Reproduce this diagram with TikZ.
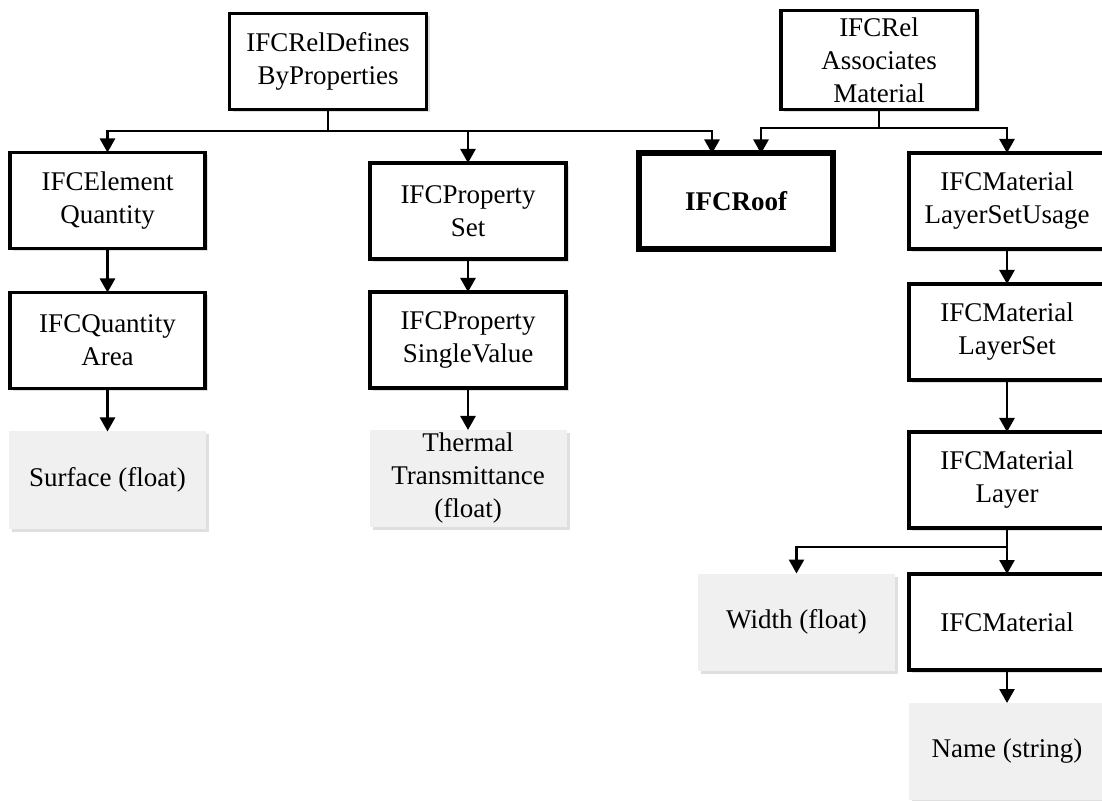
\documentclass[tikz,border=0pt]{standalone}
\usepackage{fontspec}
\setmainfont{Liberation Serif}
\usetikzlibrary{positioning, arrows.meta, shadows}

\definecolor{valfill}{HTML}{F0F0F0}

\begin{document}
\begin{tikzpicture}[
    x=0.5pt, y=-0.5pt,
    entity/.style={
        rectangle,
        draw=black,
        line width=1.6pt,
        fill=white,
        minimum width=98pt,
        minimum height=48pt,
        align=center,
        outer sep=0pt,
        font=\fontsize{13.5}{16.5}\selectfont,
        drop shadow={shadow xshift=1.5pt, shadow yshift=-1.5pt, opacity=0.25}
    },
    valuebox/.style={
        rectangle,
        fill=valfill,
        minimum width=98.5pt,
        minimum height=48.5pt,
        inner ysep=1pt,
        align=center,
        outer sep=0pt,
        font=\fontsize{13.5}{16.5}\selectfont,
        drop shadow={shadow xshift=1.5pt, shadow yshift=-1.5pt, opacity=0.25}
    },
    arrow/.style={
        -{Triangle[width=7.5pt, length=7pt]},
        line width=1.3pt,
        color=black
    }
]
    \useasboundingbox (0,0) rectangle (1102,801);

    % Relationship objects
    \node[entity, minimum width=98.5pt] (defs) at (328,61.5) {IFCRelDefines\\ByProperties};
    \node[entity] (assoc) at (879,60) {IFCRel\\Associates\\Material};

    % Quantity branch
    \node[entity, minimum width=97.5pt] (elemq) at (107.5,200.5) {IFCElement\\Quantity};
    \node[entity, minimum width=97.5pt, below=22pt of elemq] (qarea) {IFCQuantity\\Area};
    \node[valuebox, below=21.5pt of qarea] (surf) {Surface (float)};

    % Property branch
    \node[entity] (pset) at (468,211) {IFCProperty\\Set};
    \node[entity, below=16.5pt of pset] (psv) {IFCProperty\\SingleValue};
    \node[valuebox, below=21pt of psv] (thermal) {Thermal\\Transmittance\\(float)};

    % The roof itself
    \node[entity, line width=3pt, minimum width=97pt, font=\fontsize{13.5}{16.5}\selectfont\bfseries] (roof) at (736,201.5) {IFCRoof};

    % Material branch
    \node[entity] (usage) at (1007,201) {IFCMaterial\\LayerSetUsage};
    \node[entity, below=17.5pt of usage] (lset) {IFCMaterial\\LayerSet};
    \node[entity, below=26pt of lset] (layer) {IFCMaterial\\Layer};
    \node[entity, below=23pt of layer] (mat) {IFCMaterial};
    \node[valuebox, left=7pt of mat] (width) {Width (float)};
    \node[valuebox, below=16.5pt of mat] (name) {Name (string)};

    % Bus points
    \coordinate (busL) at (328,131);
    \coordinate (busR) at (879,128);
    \coordinate (busM) at (1007,547);

    % Connectors
    \draw[arrow] (defs.south) -- (busL) -| (elemq.north);
    \draw[arrow] (busL) -| (pset.north);
    \draw[arrow] (busL) -| ([xshift=-12pt]roof.north);
    \draw[arrow] (assoc.south) -- (busR) -| ([xshift=12.5pt]roof.north);
    \draw[arrow] (busR) -| (usage.north);

    \draw[arrow] (elemq) -- (qarea);
    \draw[arrow] (qarea) -- (surf);
    \draw[arrow] (pset) -- (psv);
    \draw[arrow] (psv) -- (thermal);

    \draw[arrow] (usage) -- (lset);
    \draw[arrow] (lset) -- (layer);
    \draw[arrow] (layer) -- (mat);
    \draw[arrow] (busM) -| (width.north);
    \draw[arrow] (mat) -- (name);

\end{tikzpicture}
\end{document}
